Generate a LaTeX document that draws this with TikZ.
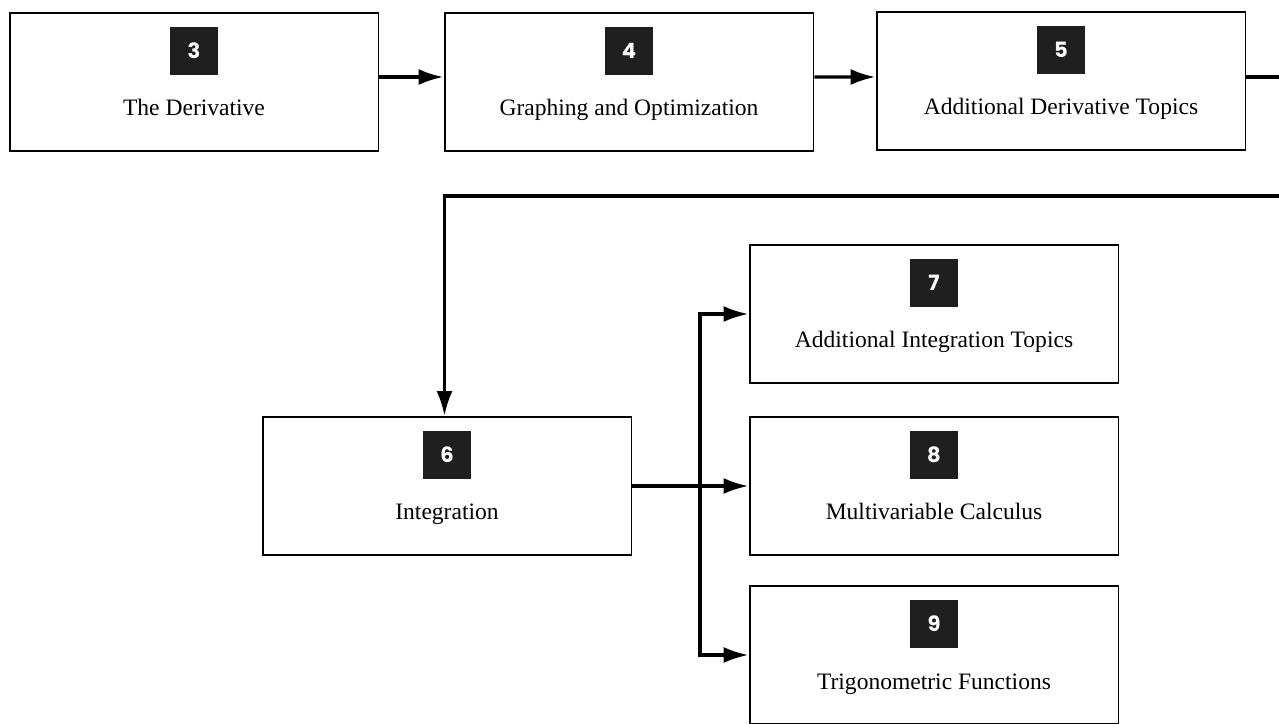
\documentclass[tikz,border=0pt]{standalone}
\usepackage{fontspec}
\setmainfont{Liberation Serif}
\newfontfamily\badgefont{Poppins}
\usetikzlibrary{arrows.meta,positioning,calc}
\tikzstyle{line} = [draw, line width=1.9pt, -{Latex[length=0.5cm,width=0.32cm]}]
\tikzstyle{chapter} = [draw, line width=1.1pt, rectangle, minimum width=7.38cm, minimum height=2.76cm]
\tikzstyle{badge} = [fill=black!88, text=white, minimum size=0.96cm, inner sep=0pt, font=\badgefont\bfseries\fontsize{12}{12}\selectfont]
\tikzstyle{boxtext} = [anchor=base, inner sep=0pt, font=\fontsize{13.4}{16}\selectfont]

\begin{document}
\begin{tikzpicture}[x=0.02cm, y=-0.02cm]
        \useasboundingbox (0,0) rectangle (1279,724);
        % first row
        \node[chapter] (deriv) at (194,82) {};
        \node[chapter] (graph) at (629,82) {};
        \node[chapter] (moreder) at (1061,81) {};
        % second part
        \node[chapter] (integ) at (447,486) {};
        \node[chapter] (moreint) at (934,314) {};
        \node[chapter] (multi) at (934,486) {};
        \node[chapter] (trig) at (934,655) {};
        % badges and titles
        \node[badge] at ([yshift=0.62cm]deriv.center) {3};
        \node[boxtext] at ([yshift=-0.68cm]deriv.center) {The Derivative};
        \node[badge] at ([yshift=0.62cm]graph.center) {4};
        \node[boxtext] at ([yshift=-0.68cm]graph.center) {Graphing and Optimization};
        \node[badge] at ([yshift=0.62cm]moreder.center) {5};
        \node[boxtext] at ([yshift=-0.68cm]moreder.center) {Additional Derivative Topics};
        \node[badge] at ([yshift=0.62cm]integ.center) {6};
        \node[boxtext] at ([yshift=-0.68cm]integ.center) {Integration};
        \node[badge] at ([yshift=0.62cm]moreint.center) {7};
        \node[boxtext] at ([yshift=-0.68cm]moreint.center) {Additional Integration Topics};
        \node[badge] at ([yshift=0.62cm]multi.center) {8};
        \node[boxtext] at ([yshift=-0.68cm]multi.center) {Multivariable Calculus};
        \node[badge] at ([yshift=0.62cm]trig.center) {9};
        \node[boxtext] at ([yshift=-0.68cm]trig.center) {Trigonometric Functions};
        % connectors
        \coordinate (wrap) at (1300,196);
        \coordinate (split) at (700,486);
        \path[line] ([yshift=0.1cm]deriv.east) -- ([yshift=0.1cm]graph.west);
        \path[line] ([yshift=0.1cm]graph.east) -- ([yshift=0.08cm]moreder.west);
        \path[line] ([yshift=0.08cm]moreder.east) -| (wrap) -| ([xshift=-0.05cm]integ.north);
        \path[line] (integ) -- (multi);
        \path[line] (split) |- (moreint.west);
        \path[line] (split) |- (trig.west);
\end{tikzpicture}
\end{document}
